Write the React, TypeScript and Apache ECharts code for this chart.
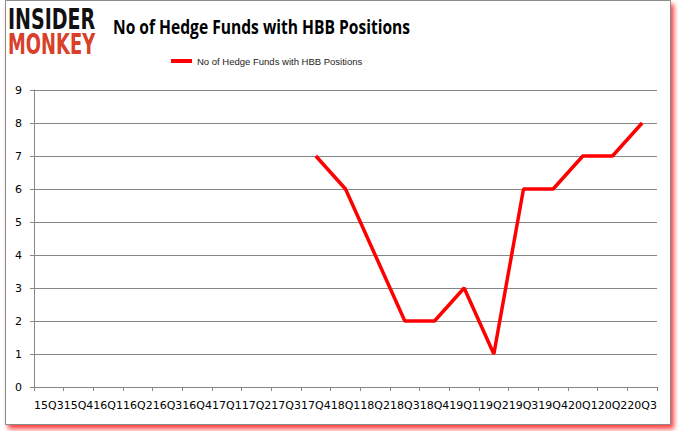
import React, { useEffect, useRef } from "react";
import * as echarts from "echarts";

const categories = [
  "15Q3", "15Q4", "16Q1", "16Q2", "16Q3", "16Q4", "17Q1", "17Q2", "17Q3", "17Q4",
  "18Q1", "18Q2", "18Q3", "18Q4", "19Q1", "19Q2", "19Q3", "19Q4", "20Q1", "20Q2", "20Q3",
];
const hedgeFunds: (number | null)[] = [
  null, null, null, null, null, null, null, null, null, 7,
  6, 4, 2, 2, 3, 1, 6, 6, 7, 7, 8,
];
const seriesName = "No of Hedge Funds with HBB Positions";
const titleText = "No of Hedge Funds with HBB Positions";

export default function App() {
  const ref = useRef<HTMLDivElement>(null);
  useEffect(() => {
    if (!ref.current) return;
    const chart = echarts.init(ref.current, undefined, { renderer: "svg" });
    const axisColor = "#868686";
    chart.setOption({
      animation: false,
      backgroundColor: "#ffffff",
      graphic: [
        {
          type: "rect",
          z: -10,
          shape: { x: 5.5, y: 0.5, width: 665, height: 424 },
          style: {
            fill: "#ffffff",
            stroke: "#8a8a8a",
            lineWidth: 1,
            shadowColor: "rgba(255,0,0,0.75)",
            shadowBlur: 5,
            shadowOffsetX: 3,
            shadowOffsetY: 4,
          },
        },
        {
          type: "text",
          x: 8,
          y: 6,
          scaleX: 0.68,
          style: {
            text: "INSIDER",
            fill: "#111111",
            font: "900 28px 'DejaVu Sans'",
          },
        },
        {
          type: "text",
          x: 8,
          y: 30,
          scaleX: 0.64,
          style: {
            text: "MONKEY",
            fill: "#d8402a",
            font: "900 28px 'DejaVu Sans'",
          },
        },
        {
          type: "text",
          x: 113,
          y: 16,
          scaleX: 0.78,
          style: {
            text: titleText,
            fill: "#000000",
            font: "bold 20px 'Open Sans'",
          },
        },
      ],
      legend: {
        top: 56,
        left: 171,
        padding: 0,
        icon: "rect",
        itemWidth: 21,
        itemHeight: 4,
        textStyle: { fontFamily: "Liberation Sans", fontSize: 9.5, color: "#222" },
        data: [seriesName],
      },
      grid: { left: 34, right: 21, top: 90, bottom: 44 },
      xAxis: {
        type: "category",
        data: categories,
        boundaryGap: true,
        axisLine: { lineStyle: { color: axisColor } },
        axisTick: { show: true, length: 4, lineStyle: { color: axisColor } },
        axisLabel: {
          interval: 0,
          margin: 13,
          fontFamily: "DejaVu Sans",
          fontSize: 11,
          color: "#000",
        },
      },
      yAxis: {
        type: "value",
        min: 0,
        max: 9,
        interval: 1,
        axisLine: { show: true, lineStyle: { color: axisColor } },
        axisTick: { show: true, length: 4, lineStyle: { color: axisColor } },
        splitLine: { show: true, lineStyle: { color: axisColor, width: 1 } },
        axisLabel: {
          margin: 12,
          fontFamily: "DejaVu Sans",
          fontSize: 11,
          color: "#000",
        },
      },
      series: [
        {
          name: seriesName,
          type: "line",
          data: hedgeFunds,
          showSymbol: false,
          symbol: "none",
          connectNulls: false,
          itemStyle: { color: "#ff0000" },
          lineStyle: { color: "#ff0000", width: 3.5 },
        },
      ],
    });
    return () => chart.dispose();
  }, []);
  return (
    <div
      ref={ref}
      style={{ position: "fixed", left: 0, top: 0, width: 678, height: 431 }}
    />
  );
}
